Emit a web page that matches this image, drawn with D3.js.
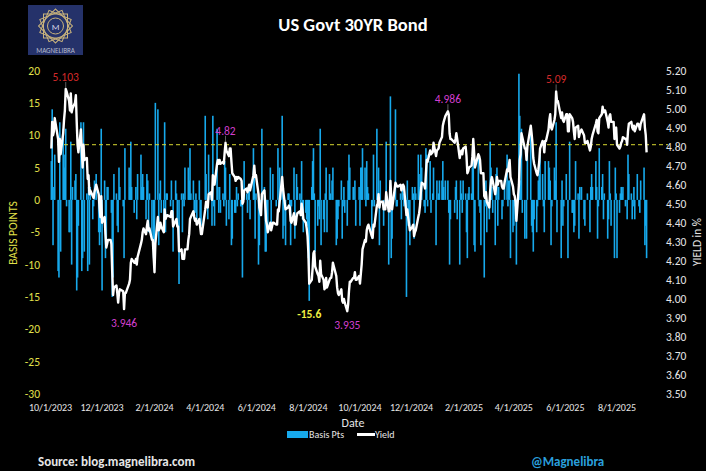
<!DOCTYPE html>
<html>
<head>
    <title>US Govt 30YR Bond</title>
    <style>
        html, body { margin: 0; padding: 0; background: #000; }
        svg { display: block; }
        text { font-family: Carlito, 'Liberation Sans Narrow', Lato, 'Open Sans', sans-serif; }
    </style>
</head>
<body>
    <svg id="chart" width="706" height="471"></svg>

    <script src="https://d3js.org/d3.v7.min.js"></script>
    <script>
        // months and their trading-day values (yield in %, daily change in bps)
        const months = ['2023-10','2023-11','2023-12','2024-01','2024-02','2024-03','2024-04','2024-05',
                        '2024-06','2024-07','2024-08','2024-09','2024-10','2024-11','2024-12','2025-01',
                        '2025-02','2025-03','2025-04','2025-05','2025-06','2025-07','2025-08','2025-09'];

        const yieldRows = [
            [4.79,4.93,4.86,4.88,4.95,4.84,4.72,4.84,4.76,4.87,4.94,4.99,5.103,5.09,5.04,4.99,5.08,4.98,5.00,5.03,5.07],
            [4.93,4.81,4.77,4.89,4.78,4.69,4.81,4.73,4.74,4.63,4.65,4.55,4.57,4.54,4.53,4.56,4.60,4.55,4.48,4.43,4.54],
            [4.40,4.43,4.34,4.27,4.29,4.31,4.31,4.29,4.14,4.02,4.06,4.07,4.03,3.98,4.03,4.05,4.04,3.946,4.03,4.03],
            [4.08,4.10,4.19,4.21,4.19,4.19,4.21,4.18,4.22,4.29,4.31,4.35,4.37,4.34,4.38,4.41,4.36,4.37,4.31,4.31,4.22],
            [4.14,4.29,4.43,4.36,4.37,4.40,4.38,4.35,4.47,4.42,4.43,4.44,4.43,4.46,4.46,4.38,4.41,4.42,4.38,4.38],
            [4.25,4.26,4.21,4.22,4.21,4.26,4.26,4.31,4.34,4.42,4.43,4.46,4.43,4.41,4.42,4.39,4.42,4.38,4.34,4.34],
            [4.47,4.51,4.51,4.48,4.55,4.56,4.52,4.65,4.64,4.60,4.71,4.73,4.71,4.73,4.71,4.72,4.71,4.77,4.82,4.78,4.75,4.79],
            [4.79,4.72,4.66,4.64,4.62,4.64,4.63,4.64,4.63,4.62,4.50,4.51,4.57,4.58,4.56,4.58,4.60,4.57,4.65,4.70,4.64,4.65],
            [4.55,4.48,4.46,4.44,4.55,4.57,4.49,4.41,4.39,4.35,4.40,4.36,4.40,4.40,4.39,4.39,4.47,4.46,4.51],
            [4.64,4.58,4.54,4.47,4.48,4.49,4.48,4.41,4.40,4.45,4.39,4.39,4.43,4.45,4.46,4.44,4.50,4.47,4.42,4.40,4.37,4.33],
            [4.24,4.08,4.10,4.16,4.24,4.25,4.17,4.13,4.12,4.09,4.20,4.13,4.10,4.05,4.06,4.11,4.06,4.10,4.11,4.11,4.14,4.19],
            [4.12,4.06,4.03,4.02,4.05,3.99,3.98,4.00,3.98,3.935,3.97,4.04,4.09,4.09,4.11,4.11,4.14,4.10,4.10,4.12],
            [4.08,4.13,4.18,4.26,4.31,4.30,4.36,4.38,4.39,4.33,4.32,4.39,4.38,4.49,4.50,4.55,4.48,4.51,4.51,4.47,4.47,4.47],
            [4.56,4.46,4.46,4.62,4.53,4.47,4.61,4.60,4.59,4.59,4.60,4.57,4.59,4.60,4.59,4.44,4.47,4.43,4.36],
            [4.38,4.39,4.33,4.35,4.36,4.43,4.45,4.49,4.56,4.61,4.60,4.58,4.66,4.73,4.72,4.78,4.76,4.77,4.82,4.75,4.78],
            [4.79,4.82,4.85,4.91,4.93,4.96,4.986,4.97,4.87,4.84,4.84,4.82,4.84,4.87,4.84,4.74,4.77,4.78,4.76,4.79],
            [4.80,4.75,4.66,4.67,4.69,4.70,4.75,4.84,4.77,4.69,4.76,4.75,4.73,4.66,4.66,4.54,4.53,4.56,4.51],
            [4.48,4.57,4.62,4.64,4.62,4.55,4.59,4.64,4.60,4.62,4.62,4.59,4.58,4.58,4.61,4.68,4.67,4.70,4.73,4.64,4.59],
            [4.55,4.54,4.51,4.41,4.60,4.73,4.76,4.87,4.85,4.79,4.79,4.73,4.80,4.91,4.87,4.82,4.74,4.71,4.66,4.65,4.68],
            [4.72,4.79,4.83,4.82,4.77,4.83,4.83,4.89,4.94,4.97,4.90,4.89,4.94,4.97,5.09,5.04,5.04,4.95,4.98,4.94,4.93],
            [4.97,4.97,4.88,4.88,4.97,4.95,4.93,4.88,4.84,4.90,4.91,4.85,4.87,4.89,4.86,4.82,4.82,4.82,4.83,4.78],
            [4.80,4.84,4.86,4.92,4.94,4.88,4.87,4.95,4.97,5.01,4.98,4.99,4.99,4.93,4.90,4.96,4.97,4.93,4.93,4.84,4.89,4.90],
            [4.81,4.79,4.80,4.82,4.83,4.85,4.84,4.84,4.81,4.88,4.92,4.93,4.90,4.89,4.91,4.88,4.92,4.92,4.91,4.89,4.92],
            [4.97,4.90,4.86,4.77]
        ];

        const bpsRows = [
            [6,14,-7,2,7,-11,-12,12,-8,11,7,5,11,-1,-5,-5,9,-10,2,3,4],
            [-14,-12,-4,12,-11,-9,12,-8,1,-11,2,-10,2,-3,-1,3,4,-5,-7,-5,11],
            [-14,3,-9,-7,2,2,0,-2,-15,-12,4,1,-4,-5,5,2,-1,-9,8,0],
            [5,2,9,2,-2,0,2,-3,4,7,2,4,2,-3,4,3,-5,1,-6,0,-9],
            [-8,15,14,-7,1,3,-2,-3,12,-5,1,1,-1,3,0,-8,3,1,-4,0],
            [-13,1,-5,1,-1,5,0,5,3,8,1,3,-3,-2,1,-3,3,-4,-4,0],
            [13,4,0,-3,7,1,-4,13,-1,-4,11,2,-2,2,-2,1,-1,6,5,-4,-3,4],
            [0,-7,-6,-2,-2,2,-1,1,-1,-1,-12,1,6,1,-2,2,2,-3,8,5,-6,1],
            [-10,-7,-2,-2,11,2,-8,-8,-2,-4,5,-4,4,0,-1,0,8,-1,5],
            [13,-6,-4,-7,1,1,-1,-7,-1,5,-6,0,4,2,1,-2,6,-3,-5,-2,-3,-4],
            [-9,-15.6,2,6,8,1,-8,-4,-1,-3,11,-7,-3,-5,1,5,-5,4,1,0,3,5],
            [-7,-6,-3,-1,3,-6,-1,2,-2,-4,3,7,5,0,2,0,3,-4,0,2],
            [-4,5,5,8,5,-1,6,2,1,-6,-1,7,-1,11,1,5,-7,3,0,-4,0,0],
            [9,-10,0,16,-9,-6,14,-1,-1,0,1,-3,2,1,-1,-15,3,-4,-7],
            [2,1,-6,2,1,7,2,4,7,5,-1,-2,8,7,-1,6,-2,1,5,-7,3],
            [1,3,3,6,2,3,3,-2,-10,-3,0,-2,2,3,-3,-10,3,1,-2,3],
            [1,-5,-9,1,2,1,5,9,-7,-8,7,-1,-2,-7,0,-12,-1,3,-5],
            [-3,9,5,2,-2,-7,4,5,-4,2,0,-3,-1,0,3,7,-1,3,3,-9,-5],
            [-4,-1,-3,-10,19.5,13,3,11,-2,-6,0,-6,7,11,-4,-5,-8,-3,-5,-1,3],
            [4,7,4,-1,-5,6,0,6,5,3,-7,-1,5,3,12,-5,0,-9,3,-4,-1],
            [4,0,-9,0,9,-2,-2,-5,-4,6,1,-6,2,2,-3,-4,0,0,1,-5],
            [2,4,2,6,2,-6,-1,8,2,4,-3,1,0,-6,-3,6,1,-4,0,-9,5,1],
            [-9,-2,1,2,1,2,-1,0,-3,7,4,1,-3,-1,2,-3,4,0,-1,-2,3],
            [5,-7,-4,-9]
        ];

        // bond market holidays (no print)
        const holidays = ['2023-10-09','2023-11-23','2023-12-25','2024-01-01','2024-01-15','2024-02-19',
                          '2024-03-29','2024-05-27','2024-06-19','2024-07-04','2024-09-02','2024-10-14',
                          '2024-11-11','2024-11-28','2024-12-25','2025-01-01','2025-01-09','2025-01-20',
                          '2025-02-17','2025-04-18','2025-05-26','2025-06-19','2025-07-04','2025-09-01'];

        const xTicks = ['2023-10-01','2023-12-01','2024-02-01','2024-04-01','2024-06-01','2024-08-01',
                        '2024-10-01','2024-12-01','2025-02-01','2025-04-01','2025-06-01','2025-08-01'];
        const bpsTicks = [20,15,10,5,0,-5,-10,-15,-20,-25,-30];
        const yieldTicks = [5.2,5.1,5.0,4.9,4.8,4.7,4.6,4.5,4.4,4.3,4.2,4.1,4.0,3.9,3.8,3.7,3.6,3.5];
        const refLevel = 4.81;

        // labelled points
        const annDates = ['2023-10-19','2023-12-27','2024-04-25','2024-08-02','2024-09-16','2025-01-13','2025-05-21'];
        const annText  = ['5.103','3.946','4.82','-15.6','3.935','4.986','5.09'];
        const annKind  = ['max','low','high','bps','low','high','max'];

        const parse = d3.timeParse('%Y-%m-%d');
        const fmt = d3.timeFormat('%Y-%m-%d');
        const holidaySet = new Set(holidays);

        // build one row per trading day
        const rows = [];
        months.forEach((m, i) => {
            const start = parse(m + '-01');
            const days = d3.timeDay.range(start, d3.timeMonth.offset(start, 1))
                .filter(d => d.getDay() !== 0 && d.getDay() !== 6 && !holidaySet.has(fmt(d)));
            yieldRows[i].forEach((v, j) => {
                rows.push({ date: days[j], key: fmt(days[j]), yld: v, bps: bpsRows[i][j] });
            });
        });
        const byKey = new Map(rows.map(r => [r.key, r]));

        const svg = d3.select('#chart');
        svg.append('rect').attr('width', 706).attr('height', 471).attr('fill', '#000');

        const x = d3.scaleTime()
            .domain([parse(xTicks[0]), parse(xTicks[xTicks.length - 1])])
            .range([50.5, 617]);
        const yL = d3.scaleLinear().domain([-30, 20]).range([394, 70.5]);
        const yR = d3.scaleLinear().domain([3.5, 5.2]).range([394, 70.5]);

        // bars
        svg.append('g')
            .selectAll('rect')
            .data(rows)
            .join('rect')
            .attr('x', d => x(d.date) - 0.8)
            .attr('width', 1.6)
            .attr('y', d => yL(Math.max(0, d.bps)))
            .attr('height', d => Math.abs(yL(d.bps) - yL(0)))
            .attr('fill', '#17a9ec');

        // dashed reference line
        svg.append('line')
            .attr('x1', 57).attr('x2', 668)
            .attr('y1', yR(refLevel)).attr('y2', yR(refLevel))
            .attr('stroke', '#d8d830')
            .attr('stroke-width', 1)
            .attr('stroke-dasharray', '4,3');

        // yield line
        const line = d3.line().x(d => x(d.date)).y(d => yR(d.yld));
        svg.append('path')
            .datum(rows)
            .attr('d', line)
            .attr('fill', 'none')
            .attr('stroke', '#fff')
            .attr('stroke-width', 2.4)
            .attr('stroke-linejoin', 'round');

        // left axis
        svg.append('g')
            .selectAll('text')
            .data(bpsTicks)
            .join('text')
            .attr('x', 40)
            .attr('y', d => yL(d) + 4)
            .attr('text-anchor', 'end')
            .attr('font-size', 11.5)
            .attr('fill', '#e2e04a')
            .text(d => d);

        // right axis
        svg.append('g')
            .selectAll('text')
            .data(yieldTicks)
            .join('text')
            .attr('x', 666)
            .attr('y', d => yR(d) + 4)
            .attr('font-size', 11.5)
            .attr('fill', '#e6e6e6')
            .text(d => d.toFixed(2));

        // x axis labels
        svg.append('g')
            .selectAll('text')
            .data(xTicks)
            .join('text')
            .attr('x', d => x(parse(d)))
            .attr('y', 411)
            .attr('text-anchor', 'middle')
            .attr('font-size', 10)
            .attr('fill', '#e6e6e6')
            .text(d => d3.timeFormat('%-m/%-d/%Y')(parse(d)));

        // axis titles
        svg.append('text')
            .attr('transform', 'translate(17,233) rotate(-90)')
            .attr('text-anchor', 'middle')
            .attr('font-size', 11.5)
            .attr('fill', '#e2e04a')
            .text('BASIS POINTS');
        svg.append('text')
            .attr('transform', 'translate(701,242) rotate(-90)')
            .attr('text-anchor', 'middle')
            .attr('font-size', 11.5)
            .attr('fill', '#e6e6e6')
            .text('YIELD in %');
        svg.append('text')
            .attr('x', 353).attr('y', 427)
            .attr('text-anchor', 'middle')
            .attr('font-size', 12)
            .attr('fill', '#e6e6e6')
            .text('Date');

        // annotations
        const annStyle = {
            max:  { color: '#d42a2a', dy: -8, weight: 'normal' },
            high: { color: '#d23fce', dy: -8, weight: 'normal' },
            low:  { color: '#d23fce', dy: 18, weight: 'normal' },
            bps:  { color: '#f0f040', dy: 17, weight: 'bold' }
        };
        annDates.forEach((d, i) => {
            const r = byKey.get(d);
            if (!r) return;
            const s = annStyle[annKind[i]];
            const py = annKind[i] === 'bps' ? yL(r.bps) : yR(r.yld);
            if (annKind[i] === 'max' || annKind[i] === 'high') {
                svg.append('line')
                    .attr('x1', x(r.date)).attr('x2', x(r.date))
                    .attr('y1', py - 7).attr('y2', py - 1)
                    .attr('stroke', '#777').attr('stroke-width', 0.8);
            }
            svg.append('text')
                .attr('x', x(r.date))
                .attr('y', py + s.dy)
                .attr('text-anchor', 'middle')
                .attr('font-size', 11.5)
                .attr('font-weight', s.weight)
                .attr('fill', s.color)
                .text(annText[i]);
        });

        // title
        svg.append('text')
            .attr('x', 353).attr('y', 31)
            .attr('text-anchor', 'middle')
            .attr('font-size', 18.5)
            .attr('font-weight', 'bold')
            .attr('fill', '#fff')
            .text('US Govt 30YR Bond');

        // legend
        const lg = svg.append('g');
        lg.append('rect').attr('x', 287).attr('y', 431).attr('width', 21).attr('height', 7).attr('fill', '#17a9ec');
        lg.append('text').attr('x', 309).attr('y', 438).attr('font-size', 10).attr('fill', '#e6e6e6').text('Basis Pts');
        lg.append('line').attr('x1', 357).attr('x2', 375).attr('y1', 434.5).attr('y2', 434.5)
            .attr('stroke', '#fff').attr('stroke-width', 3);
        lg.append('text').attr('x', 375).attr('y', 438).attr('font-size', 10).attr('fill', '#e6e6e6').text('Yield');

        // footer
        svg.append('text')
            .attr('x', 38).attr('y', 466)
            .attr('font-size', 13)
            .attr('font-weight', 'bold')
            .attr('fill', '#e6e6e6')
            .text('Source: blog.magnelibra.com');
        svg.append('text')
            .attr('x', 531).attr('y', 466)
            .attr('font-size', 13)
            .attr('font-weight', 'bold')
            .attr('fill', '#2a9fdc')
            .text('@Magnelibra');

        // logo
        const logo = svg.append('g');
        logo.append('rect').attr('x', 28).attr('y', 5).attr('width', 55).attr('height', 50).attr('fill', '#25326a');
        const cx = 55.5, cy = 26;
        [0, 22.5, 45, 67.5].forEach(a => {
            logo.append('rect')
                .attr('x', cx - 12).attr('y', cy - 12).attr('width', 24).attr('height', 24)
                .attr('transform', `rotate(${a},${cx},${cy})`)
                .attr('fill', 'none')
                .attr('stroke', '#c9b37c')
                .attr('stroke-width', 1);
        });
        logo.append('circle').attr('cx', cx).attr('cy', cy).attr('r', 8)
            .attr('fill', '#25326a').attr('stroke', '#c9b37c').attr('stroke-width', 1);
        logo.append('text').attr('x', cx).attr('y', cy + 3.5).attr('text-anchor', 'middle')
            .attr('font-size', 9).attr('fill', '#d8d8e8').text('M');
        logo.append('text').attr('x', cx).attr('y', 52.5).attr('text-anchor', 'middle')
            .attr('font-size', 7).attr('fill', '#b8bccc').text('MAGNELIBRA');
    </script>
</body>
</html>
